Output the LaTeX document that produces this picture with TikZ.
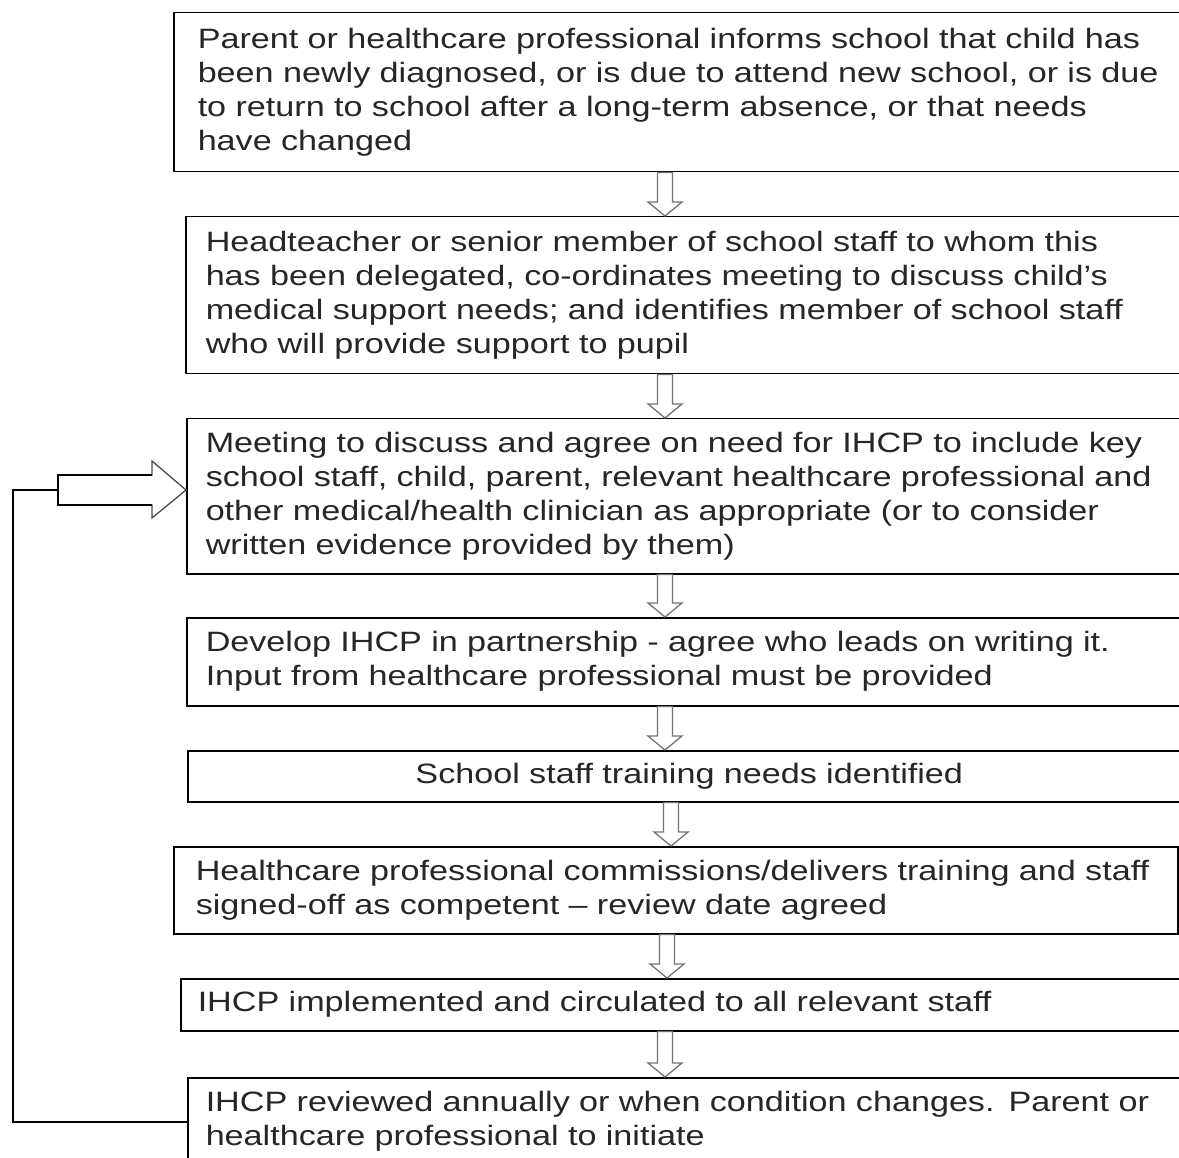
\documentclass[tikz,border=0pt]{standalone}
\usepackage{fontspec}
\setmainfont[FakeStretch=1.22]{Liberation Sans}
\usetikzlibrary{calc}
\newcommand\fs{\fontsize{28}{34}\selectfont}
\newcommand\downblock[3]{%
  \draw[barrow] let \p1=(#1.south), \p2=(#2.north) in
   ({#3pt-7.5pt},\y1) -- ({#3pt+7.5pt},\y1) -- ({#3pt+7.5pt},\y2+14pt)
   -- ({#3pt+17pt},\y2+14pt) -- (#3pt,\y2) -- ({#3pt-17pt},\y2+14pt)
   -- ({#3pt-7.5pt},\y2+14pt) -- cycle;}
\begin{document}
\begin{tikzpicture}[x=1pt,y=-1pt,
  box/.style={draw=black, line width=1.5pt, rectangle, anchor=north west,
    inner ysep=0pt, align=left, font=\fs, text=black!85},
  barrow/.style={draw=black!55, line width=1.3pt, fill=white, line join=miter},
  loopline/.style={draw=black, line width=1.8pt}]
\useasboundingbox (0,0) rectangle (1179,1158);
\clip (0,0) rectangle (1179,1158);
\fill[white] (0,0) rectangle (1179,1158);

\node[box, minimum height=159, inner xsep=24, text width=969] (b1) at (173,12)
 {Parent or healthcare professional informs school that child has\\
  been newly diagnosed, or is due to attend new school, or is due\\
  to return to school after a long-term absence, or that needs\\
  have changed};
\node[box, minimum height=157, inner xsep=20, text width=965] (b2) at (185,216)
 {Headteacher or senior member of school staff to whom this\\
  has been delegated, co-ordinates meeting to discuss child’s\\
  medical support needs; and identifies member of school staff\\
  who will provide support to pupil};
\node[box, minimum height=155, inner xsep=19, text width=966] (b3) at (186,418)
 {Meeting to discuss and agree on need for IHCP to include key\\
  school staff, child, parent, relevant healthcare professional and\\
  other medical/health clinician as appropriate (or to consider\\
  written evidence provided by them)};
\node[box, minimum height=88, inner xsep=19, text width=966] (b4) at (186,617)
 {Develop IHCP in partnership - agree who leads on writing it.\\
  Input from healthcare professional must be provided};
\node[box, minimum height=51, inner xsep=19, text width=965, align=center] (b5) at (187,750)
 {School staff training needs identified};
\node[box, minimum height=87, inner xsep=22, text width=960] (b6) at (173,846)
 {Healthcare professional commissions/delivers training and staff\\
  signed-off as competent – review date agreed};
\node[box, minimum height=52, inner xsep=17, text width=976] (b7) at (180,978)
 {IHCP implemented and circulated to all relevant staff};
\node[box, minimum height=88, inner xsep=18, text width=967] (b8) at (187,1077)
 {IHCP reviewed annually or when condition changes. Parent or\\
  healthcare professional to initiate};

\downblock{b1}{b2}{665}
\downblock{b2}{b3}{665}
\downblock{b3}{b4}{665}
\downblock{b4}{b5}{665}
\downblock{b5}{b6}{671}
\downblock{b6}{b7}{667}
\downblock{b7}{b8}{665}

% feedback loop
\coordinate (lc) at (13,490);
\coordinate (ls) at (58,490);
\draw[loopline] (b8.west) -| (lc) -- (ls);
\draw[barrow, draw=black!70] let \p1=(ls), \p2=(b3.west) in
  (\x1,\y1+15pt) -- (152pt,\y1+15pt) -- (152pt,\y1+29pt) -- (\x2,\y1)
  -- (152pt,\y1-28pt) -- (152pt,\y1-15pt) -- (\x1,\y1-15pt) -- cycle;
\draw[black, line width=1.8pt] let \p1=(ls) in
  (152pt,\y1+15pt) -- (\x1,\y1+15pt) -- (\x1,\y1-15pt) -- (152pt,\y1-15pt);
\end{tikzpicture}
\end{document}
